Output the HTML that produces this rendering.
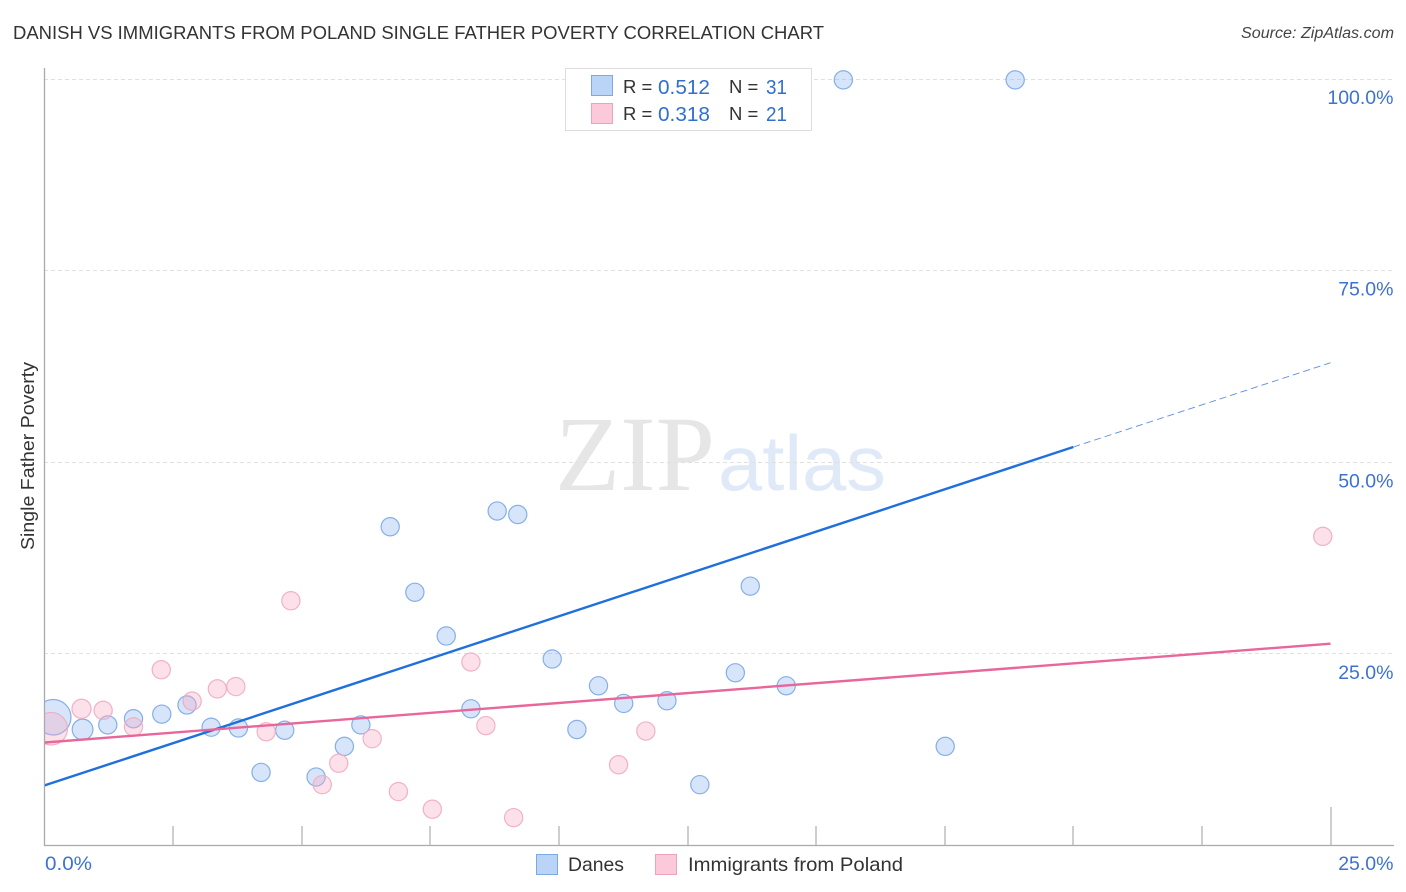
<!DOCTYPE html>
<html lang="en">
<head>
<meta charset="utf-8">
<title>Danish vs Immigrants from Poland Single Father Poverty Correlation Chart</title>
<style>
html,body{margin:0;padding:0;background:#fff;width:1406px;height:892px;overflow:hidden}
svg{display:block;font-family:"Liberation Sans",Arial,sans-serif}
</style>
</head>
<body>
<svg id="chart" width="1406" height="892" viewBox="0 0 1406 892" xmlns="http://www.w3.org/2000/svg">
  <defs><clipPath id="plot-clip"><rect x="45" y="60" width="1349" height="785"/></clipPath></defs>
  <rect x="0" y="0" width="1406" height="892" fill="#fff"/>
  <text x="13" y="39" font-size="18.5" fill="#333" textLength="811" lengthAdjust="spacingAndGlyphs">DANISH VS IMMIGRANTS FROM POLAND SINGLE FATHER POVERTY CORRELATION CHART</text>
  <text x="1241" y="38" font-size="15.5" font-style="italic" fill="#444" textLength="153" lengthAdjust="spacingAndGlyphs">Source: ZipAtlas.com</text>
  <g>
    <text x="555" y="490" font-family="'Liberation Serif',serif" font-size="107" fill="#e6e6e6" textLength="160" lengthAdjust="spacingAndGlyphs">ZIP</text>
    <text x="718" y="490" font-family="'Liberation Sans',sans-serif" font-size="78" fill="#dfe9f8" textLength="168" lengthAdjust="spacingAndGlyphs">atlas</text>
  </g>
  <g id="grid"></g>
  <g id="axes"></g>
  <g id="marks" clip-path="url(#plot-clip)"></g>
  <text x="0" y="0" transform="translate(34,550) rotate(-90)" font-size="18.5" fill="#333" textLength="188" lengthAdjust="spacingAndGlyphs">Single Father Poverty</text>
  <g>
    <rect x="565.5" y="68.5" width="246" height="62" fill="#fff" stroke="#ddd"/>
    <rect x="591.5" y="75.5" width="21" height="20" fill="#b9d4f7" stroke="#7ea9e4"/>
    <rect x="591.5" y="103.5" width="21" height="20" fill="#fcc9da" stroke="#eea3bc"/>
    <text x="623" y="93" font-size="18.5" fill="#333">R =</text>
    <text x="658" y="94" font-size="20.5" fill="#2f6fd0" textLength="52" lengthAdjust="spacingAndGlyphs">0.512</text>
    <text x="729" y="93" font-size="18.5" fill="#333">N =</text>
    <text x="766" y="94" font-size="20.5" fill="#2f6fd0" textLength="21" lengthAdjust="spacingAndGlyphs">31</text>
    <text x="623" y="120" font-size="18.5" fill="#333">R =</text>
    <text x="658" y="121" font-size="20.5" fill="#2f6fd0" textLength="52" lengthAdjust="spacingAndGlyphs">0.318</text>
    <text x="729" y="120" font-size="18.5" fill="#333">N =</text>
    <text x="766" y="121" font-size="20.5" fill="#2f6fd0" textLength="21" lengthAdjust="spacingAndGlyphs">21</text>
  </g>
  <g>
    <rect x="536.5" y="854.5" width="21" height="20" fill="#b9d4f7" stroke="#7ea9e4"/>
    <text x="568" y="871" font-size="19.5" fill="#333" textLength="56" lengthAdjust="spacingAndGlyphs">Danes</text>
    <rect x="655.5" y="854.5" width="21" height="20" fill="#fcc9da" stroke="#eea3bc"/>
    <text x="688" y="871" font-size="19.5" fill="#333" textLength="215" lengthAdjust="spacingAndGlyphs">Immigrants from Poland</text>
  </g>
</svg>
<script>
// Chart data: x = Danes/Immigrants share (%), y = Single Father Poverty (%)
const yTickValues = [25, 50, 75, 100];
const yTickLabels = ["25.0%", "50.0%", "75.0%", "100.0%"];
const xTickValues = [2.5, 5, 7.5, 10, 12.5, 15, 17.5, 20, 22.5, 25];
const xEdgeLabels = ["0.0%", "25.0%"];

const danesX = [0.17, 0.74, 1.23, 1.73, 2.28, 2.77, 3.24, 3.77, 4.21, 4.67, 5.28, 5.83, 6.15, 6.72, 7.2, 7.81, 8.29, 8.8, 9.2, 9.87, 10.35, 10.77, 11.26, 12.1, 12.74, 13.43, 13.72, 14.42, 15.53, 17.51, 18.87];
const danesY = [16.8, 15.2, 15.8, 16.6, 17.2, 18.4, 15.5, 15.4, 9.6, 15.1, 9.0, 13.0, 15.8, 41.65, 33.1, 27.4, 17.9, 43.7, 43.25, 24.4, 15.2, 20.9, 18.6, 18.95, 8.0, 22.6, 33.9, 20.9, 99.95, 13.0, 99.95];
const danesWeight = [3.8, 1.3, 1, 1, 1, 1, 1, 1, 1, 1, 1, 1, 1, 1, 1, 1, 1, 1, 1, 1, 1, 1, 1, 1, 1, 1, 1, 1, 1, 1, 1];

const polandX = [0.13, 0.72, 1.14, 1.73, 2.27, 2.87, 3.36, 3.72, 4.31, 4.79, 5.4, 5.72, 6.37, 6.88, 7.54, 8.29, 8.58, 9.12, 11.16, 11.69, 24.85];
const polandY = [15.3, 17.9, 17.7, 15.55, 23.0, 18.9, 20.5, 20.8, 14.9, 32.0, 8.0, 10.8, 14.0, 7.1, 4.8, 24.0, 15.7, 3.7, 10.6, 15.0, 40.4];
const polandWeight = [3.2, 1.1, 1, 1, 1, 1, 1, 1, 1, 1, 1, 1, 1, 1, 1, 1, 1, 1, 1, 1, 1];

const danesTrendX = [0, 20];
const danesTrendY = [7.9, 52.05];
const danesProjectionX = [20, 25];
const danesProjectionY = [52.05, 63.05];
const polandTrendX = [0, 25];
const polandTrendY = [13.5, 26.4];

function xScale(v) { return 44.5 + v * (1330.5 - 44.5) / 25; }
function yScale(v) { return 846 - v * (846 - 79.5) / 100; }
function rScale(w) { return 9.1 * Math.sqrt(w); }

const NS = "http://www.w3.org/2000/svg";
function make(tag, attrs, parent, text) {
  const el = document.createElementNS(NS, tag);
  for (const k in attrs) el.setAttribute(k, attrs[k]);
  if (text !== undefined) el.textContent = text;
  parent.appendChild(el);
  return el;
}
const gridG = document.getElementById("grid");
const axesG = document.getElementById("axes");
const marksG = document.getElementById("marks");

yTickValues.forEach(function (v, i) {
  const y = Math.round(yScale(v)) - 0.5;
  const line = make("line", { x1: 44, x2: 1393, y1: y, y2: y, stroke: "#e0e0e0", "stroke-width": 1, "stroke-dasharray": "4 3" }, gridG);
  
  
  const label = make("text", { x: 1393.5, y: yScale(v) + 24.5, "font-size": 19.5, fill: "#3d72d1", "text-anchor": "end" }, axesG, yTickLabels[i]);
  
  
});

const yAxis = make("line", { x1: 44.5, x2: 44.5, y1: 68, y2: 846, stroke: "#aaa", "stroke-width": 1.3 }, axesG);


const xAxis = make("line", { x1: 44, x2: 1394, y1: 845.5, y2: 845.5, stroke: "#aaa", "stroke-width": 1.3 }, axesG);



xTickValues.forEach(function (v) {
  const x = Math.round(xScale(v));
  const top = v === 25 ? 807 : 826;
  const tick = make("line", { x1: x, x2: x, y1: top, y2: 845, stroke: "#b4b4b4", "stroke-width": 1.3 }, axesG);
  
  
});

const xLabelStart = make("text", { x: 45, y: 870, "font-size": 19.5, fill: "#3d72d1", textLength: 47, lengthAdjust: "spacingAndGlyphs" }, axesG, xEdgeLabels[0]);


const xLabelEnd = make("text", { x: 1393.5, y: 870, "font-size": 19.5, fill: "#3d72d1", "text-anchor": "end" }, axesG, xEdgeLabels[1]);



danesX.forEach(function (v, i) {
  const c = make("circle", { cx: xScale(v), cy: yScale(danesY[i]), r: rScale(danesWeight[i]), fill: "#8fb8f0", "fill-opacity": 0.36, stroke: "#7aa7e6", "stroke-opacity": 0.9, "stroke-width": 1.2 }, marksG);
  
  
});
polandX.forEach(function (v, i) {
  const c = make("circle", { cx: xScale(v), cy: yScale(polandY[i]), r: rScale(polandWeight[i]), fill: "#f9a8c2", "fill-opacity": 0.34, stroke: "#efaac2", "stroke-opacity": 0.9, "stroke-width": 1.2 }, marksG);
  
  
});

const danesTrend = make("line", { x1: xScale(danesTrendX[0]), y1: yScale(danesTrendY[0]), x2: xScale(danesTrendX[1]), y2: yScale(danesTrendY[1]), stroke: "#1f6fdc", "stroke-width": 2.4 }, marksG);


const danesProjection = make("line", { x1: xScale(danesProjectionX[0]), y1: yScale(danesProjectionY[0]), x2: xScale(danesProjectionX[1]), y2: yScale(danesProjectionY[1]), stroke: "#5b8fdc", "stroke-width": 0.9, "stroke-dasharray": "7 4" }, marksG);


const polandTrend = make("line", { x1: xScale(polandTrendX[0]), y1: yScale(polandTrendY[0]), x2: xScale(polandTrendX[1]), y2: yScale(polandTrendY[1]), stroke: "#e9669a", "stroke-width": 2.4 }, marksG);


</script>
</body>
</html>
